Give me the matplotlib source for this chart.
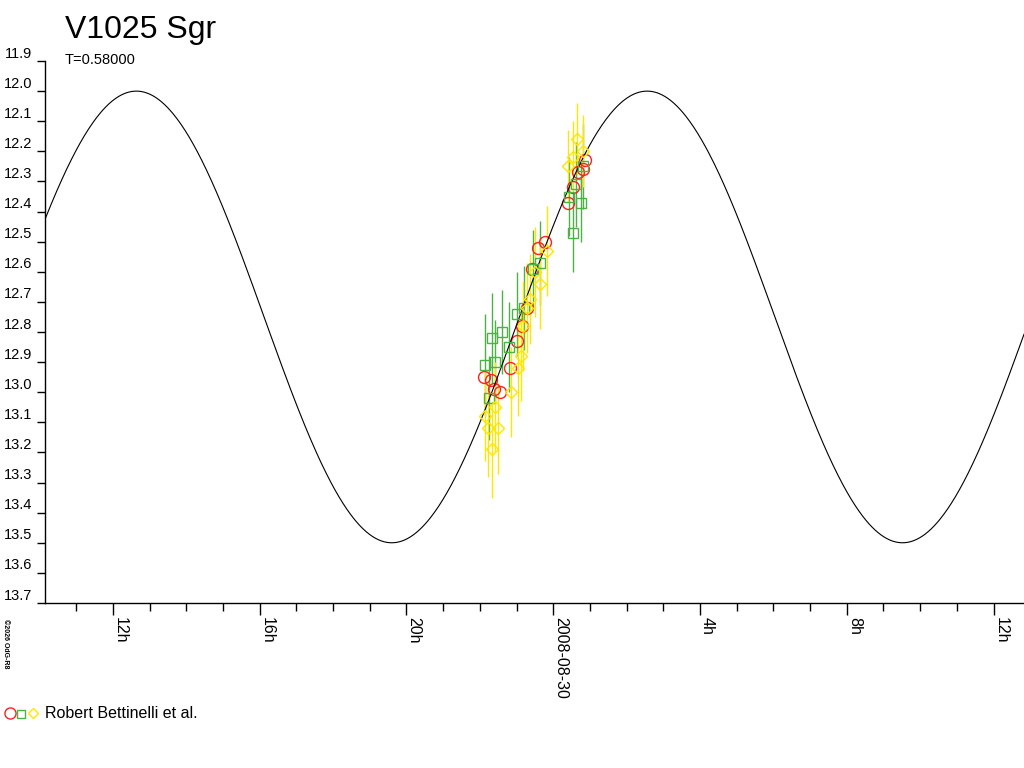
import numpy as np
import matplotlib.pyplot as plt
import matplotlib.transforms as mtransforms
from matplotlib.lines import Line2D
from matplotlib.ticker import MultipleLocator

plt.rcParams['font.family'] = ['Liberation Sans', 'DejaVu Sans']

# time in hours relative to 2008-08-30 00:00 UT
red_t = [-1.88, -1.69, -1.61, -1.44, -1.17, -0.98, -0.84, -0.71, -0.57, -0.41,
         -0.22, 0.41, 0.54, 0.68, 0.82, 0.87]
red_mag = [12.95, 12.96, 12.99, 13.00, 12.92, 12.83, 12.78, 12.72, 12.59, 12.52,
           12.50, 12.37, 12.32, 12.27, 12.26, 12.23]

green_t = [-1.85, -1.74, -1.66, -1.58, -1.39, -1.20, -0.98, -0.79, -0.54, -0.35,
           0.44, 0.54, 0.63, 0.76, 0.82]
green_mag = [12.91, 13.02, 12.82, 12.90, 12.80, 12.85, 12.74, 12.72, 12.59, 12.57,
             12.35, 12.47, 12.31, 12.37, 12.25]
green_err = [0.17, 0.14, 0.15, 0.14, 0.14, 0.15, 0.14, 0.14, 0.13, 0.14,
             0.13, 0.13, 0.14, 0.13, 0.14]

yellow_t = [-1.85, -1.77, -1.66, -1.58, -1.50, -1.14, -0.95, -0.87, -0.82, -0.71,
            -0.63, -0.49, -0.35, -0.16, 0.41, 0.54, 0.65, 0.82]
yellow_mag = [13.08, 13.12, 13.19, 13.05, 13.12, 13.00, 12.92, 12.88, 12.78, 12.72,
              12.69, 12.60, 12.64, 12.53, 12.25, 12.22, 12.16, 12.20]
yellow_err = [0.15, 0.16, 0.16, 0.15, 0.15, 0.15, 0.16, 0.15, 0.15, 0.15,
              0.15, 0.15, 0.15, 0.15, 0.12, 0.12, 0.12, 0.12]

# sine ephemeris (T = 0.58 d)
period_h = 0.58 * 24
epoch_max_h = 2.56
mean_mag = 12.75
amplitude = 0.75

xticks = [-12, -8, -4, 0, 4, 8, 12]
xticklabels = ['12h', '16h', '20h', '2008-08-30', '4h', '8h', '12h']
x_lo, x_hi = -13.85, 12.83

red = '#ff2020'
green = '#4cb244'
yellow = '#ffe600'

fig = plt.figure(figsize=(10.24, 7.68), dpi=100)
ax = fig.add_axes([45 / 1024, 1 - 603 / 768, 979 / 1024, 542 / 768])

ax.errorbar(green_t, green_mag, yerr=green_err, fmt='s', mfc='none', mec=green,
            ecolor=green, ms=6.5, mew=1, elinewidth=1, capsize=0)
ax.errorbar(yellow_t, yellow_mag, yerr=yellow_err, fmt='D', mfc='none', mec=yellow,
            ecolor=yellow, ms=6.5, mew=1, elinewidth=1, capsize=0)
ax.plot(red_t, red_mag, 'o', mfc='none', mec=red, ms=8.6, mew=1)

t = np.linspace(x_lo, x_hi, 1000)
curve = mean_mag - amplitude * np.cos(2 * np.pi * (t - epoch_max_h) / period_h)
ax.plot(t, curve, color='black', lw=0.8)

ax.set_xlim(x_lo, x_hi)
ax.set_ylim(13.7, 11.9)
for s in ['top', 'right']:
    ax.spines[s].set_visible(False)
for s in ['left', 'bottom']:
    ax.spines[s].set_linewidth(1)

ax.set_xticks(xticks)
ax.set_xticklabels(xticklabels, fontsize=11.5, rotation=-90, ha='left', va='top')
ax.xaxis.set_minor_locator(MultipleLocator(1))
ax.tick_params(axis='x', which='major', length=8.6, width=1, pad=1.5)
ax.tick_params(axis='x', which='minor', length=5.8, width=1)

yt = np.round(np.arange(11.9, 13.71, 0.1), 1)
ax.set_yticks(yt)
ax.set_yticklabels(['%.1f' % v for v in yt], fontsize=10.5)
ax.tick_params(axis='y', length=5.8, width=1, pad=3.6)
off = mtransforms.ScaledTranslation(0, 9 / 100, fig.dpi_scale_trans)
for lab in ax.get_yticklabels():
    lab.set_transform(lab.get_transform() + off)

fig.text(65 / 1024, 1 - 38 / 768, 'V1025 Sgr', fontsize=23, va='baseline')
fig.text(65 / 1024, 1 - 64 / 768, 'T=0.58000', fontsize=10.5, va='baseline')
fig.text(5 / 1024, 1 - 644 / 768, '\u00a92026 OdG-R8', fontsize=5, rotation=-90,
         ha='center', va='center', fontweight='bold')

# legend drawn in figure coordinates
fig.add_artist(Line2D([10 / 1024], [1 - 713 / 768], marker='o', ms=8, mfc='none',
                      mec=red, mew=1, transform=fig.transFigure))
fig.add_artist(Line2D([21 / 1024], [1 - 714 / 768], marker='s', ms=5.5, mfc='none',
                      mec=green, mew=1, transform=fig.transFigure))
fig.add_artist(Line2D([33 / 1024], [1 - 713 / 768], marker='D', ms=5.5, mfc='none',
                      mec=yellow, mew=1, transform=fig.transFigure))
fig.text(45 / 1024, 1 - 713 / 768, 'Robert Bettinelli et al.', fontsize=11.5,
         va='center')

fig.savefig('out.png', dpi=100)
